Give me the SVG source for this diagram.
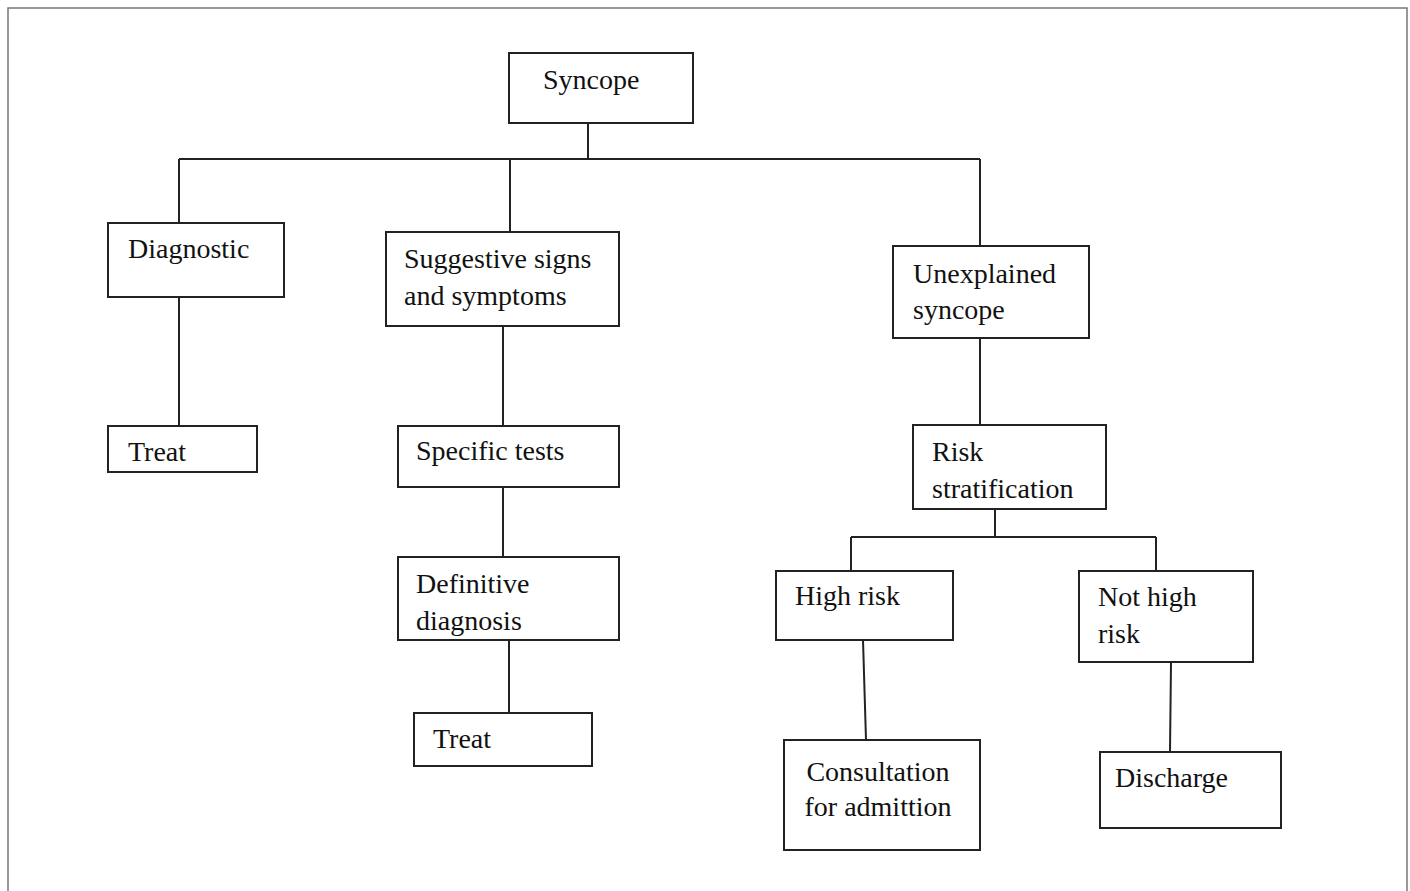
<svg xmlns="http://www.w3.org/2000/svg" width="1410" height="891" viewBox="0 0 1410 891">
<style>
.box{fill:#fff;stroke:#222;stroke-width:2}
.ln{fill:none;stroke:#222;stroke-width:2}
text{font-family:"Liberation Serif","Times New Roman",serif;font-size:28px;fill:#111}
</style>
<rect x="0" y="0" width="1410" height="891" fill="#fff"/>
<rect x="8" y="8" width="1399" height="900" fill="none" stroke="#777" stroke-width="1.5"/>
<g id="connectors">
<path class="ln" d="M588 123V159M179 159H980M179 159V223M510 159V232M980 159V246"/>
<path class="ln" d="M179 297V426"/>
<path class="ln" d="M503 326V426M503 487V557M509 640V713"/>
<path class="ln" d="M980 338V425M995 509V537M851 537H1156M851 537V571M1156 537V571"/>
<path class="ln" d="M863 640L866 740M1171 662L1170 752"/>
</g>
<g id="syncope"><rect class="box" x="509" y="53" width="184" height="70"/><text x="543" y="89">Syncope</text></g>
<g id="diagnostic"><rect class="box" x="108" y="223" width="176" height="74"/><text x="128" y="258">Diagnostic</text></g>
<g id="treat1"><rect class="box" x="108" y="426" width="149" height="46"/><text x="128" y="461">Treat</text></g>
<g id="suggestive"><rect class="box" x="386" y="232" width="233" height="94"/><text x="404" y="268">Suggestive signs</text><text x="404" y="305">and symptoms</text></g>
<g id="specific"><rect class="box" x="398" y="426" width="221" height="61"/><text x="416" y="460">Specific tests</text></g>
<g id="definitive"><rect class="box" x="398" y="557" width="221" height="83"/><text x="416" y="593">Definitive</text><text x="416" y="630">diagnosis</text></g>
<g id="treat2"><rect class="box" x="414" y="713" width="178" height="53"/><text x="433" y="748">Treat</text></g>
<g id="unexplained"><rect class="box" x="893" y="246" width="196" height="92"/><text x="913" y="283">Unexplained</text><text x="913" y="319">syncope</text></g>
<g id="risk"><rect class="box" x="913" y="425" width="193" height="84"/><text x="932" y="461">Risk</text><text x="932" y="498">stratification</text></g>
<g id="highrisk"><rect class="box" x="776" y="571" width="177" height="69"/><text x="795" y="605">High risk</text></g>
<g id="nothighrisk"><rect class="box" x="1079" y="571" width="174" height="91"/><text x="1098" y="606">Not high</text><text x="1098" y="643">risk</text></g>
<g id="consultation"><rect class="box" x="784" y="740" width="196" height="110"/><text x="878" y="781" text-anchor="middle">Consultation</text><text x="878" y="816" text-anchor="middle">for admittion</text></g>
<g id="discharge"><rect class="box" x="1100" y="752" width="181" height="76"/><text x="1115" y="787">Discharge</text></g>
</svg>
